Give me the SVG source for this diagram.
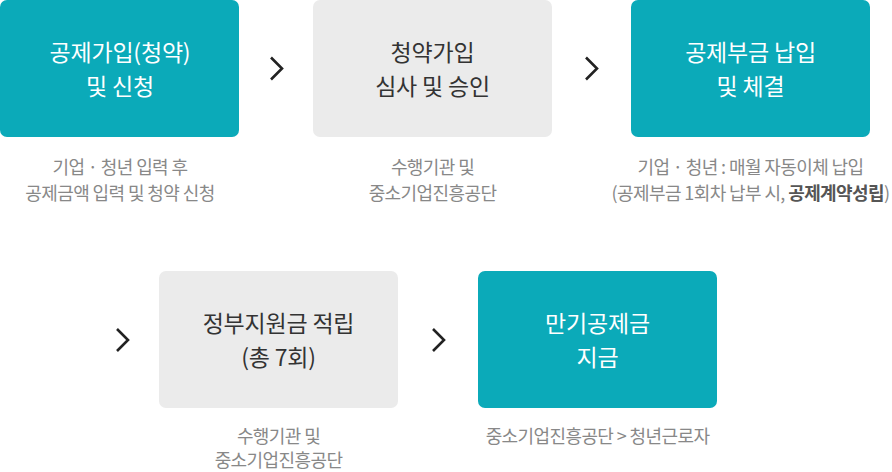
<svg xmlns="http://www.w3.org/2000/svg" width="892" height="472" viewBox="0 0 892 472">
<style>
text{font-family:"Noto Sans CJK KR","Noto Sans",sans-serif;text-anchor:middle}
.teal{fill:#0baab9}
.gray{fill:#ebebeb}
.tw{fill:#ffffff;font-size:23px;letter-spacing:-0.2px}
.td{fill:#333333;font-size:23px;letter-spacing:-0.2px}
.cap{fill:#888888;font-size:18px;letter-spacing:-0.6px}
.b{font-weight:700;fill:#555555}
.chev{fill:none;stroke:#222222;stroke-width:2.6;stroke-linecap:butt}
</style>
<g id="node1">
<rect class="teal" x="0" y="0" width="239" height="137" rx="7"/>
<text class="tw" x="120" y="61">공제가입(청약)</text>
<text class="tw" x="120" y="95">및 신청</text>
<text class="cap" x="120" y="174">기업 · 청년 입력 후</text>
<text class="cap" x="120" y="200">공제금액 입력 및 청약 신청</text>
</g>
<g id="node2">
<rect class="gray" x="313" y="0" width="239" height="137" rx="7"/>
<text class="td" x="432.5" y="61">청약가입</text>
<text class="td" x="432.5" y="95">심사 및 승인</text>
<text class="cap" x="432.5" y="174">수행기관 및</text>
<text class="cap" x="432.5" y="200">중소기업진흥공단</text>
</g>
<g id="node3">
<rect class="teal" x="631" y="0" width="239" height="137" rx="7"/>
<text class="tw" x="750.5" y="61">공제부금 납입</text>
<text class="tw" x="750.5" y="95">및 체결</text>
<text class="cap" x="750.5" y="174">기업 · 청년 : 매월 자동이체 납입</text>
<text class="cap" x="750.5" y="200">(공제부금 1회차 납부 시, <tspan class="b">공제계약성립</tspan>)</text>
</g>
<g id="node4">
<rect class="gray" x="159" y="271" width="239" height="137" rx="7"/>
<text class="td" x="278.5" y="332">정부지원금 적립</text>
<text class="td" x="278.5" y="366">(총 7회)</text>
<text class="cap" x="278.5" y="443">수행기관 및</text>
<text class="cap" x="278.5" y="467">중소기업진흥공단</text>
</g>
<g id="node5">
<rect class="teal" x="478" y="271" width="239" height="137" rx="7"/>
<text class="tw" x="597.5" y="332">만기공제금</text>
<text class="tw" x="597.5" y="366">지금</text>
<text class="cap" x="597.5" y="443">중소기업진흥공단 &gt; 청년근로자</text>
</g>
<g id="connectors">
<polyline class="chev" points="271,57.5 282,68.5 271,79.5"/>
<polyline class="chev" points="586,57.5 597,68.5 586,79.5"/>
<polyline class="chev" points="117,329 128,340 117,351"/>
<polyline class="chev" points="433,329 444,340 433,351"/>
</g>
</svg>
